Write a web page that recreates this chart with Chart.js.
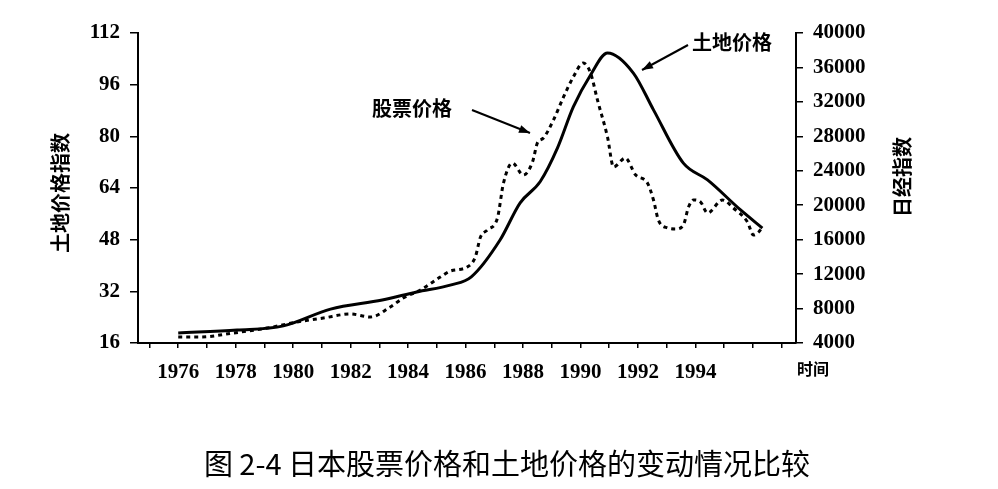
<!DOCTYPE html>
<html>
<head>
<meta charset="utf-8">
<script src="https://cdn.jsdelivr.net/npm/chart.js@4.4.1/dist/chart.umd.min.js"></script>
<style>
html,body{margin:0;padding:0;background:#fff;}
canvas{display:block;}
</style>
</head>
<body>
<canvas id="c" width="998" height="489"></canvas>
<script>
// ---- data ----
const yearTicks = [1975,1976,1977,1978,1979,1980,1981,1982,1983,1984,1985,1986,1987,1988,1989,1990,1991,1992,1993,1994,1995,1996,1997];
const yearLabels = [1976,1978,1980,1982,1984,1986,1988,1990,1992,1994];
const landTicks = [16,32,48,64,80,96,112];
const nikkeiTicks = [4000,8000,12000,16000,20000,24000,28000,32000,36000,40000];

const landYears  = [1976.0,1978.05,1979.66,1981.3,1983.1,1984.3,1985.5,1986.2,1987.2,1987.9,1988.6,1989.2,1989.75,1990.35,1990.94,1991.84,1992.54,1993.58,1994.42,1995.57,1996.33];
const landValues = [19.1,20.0,21.3,26.5,29.3,31.8,34.0,36.5,47.9,59.4,66.0,76.4,89.1,99.0,105.8,99.6,88.2,71.7,66.5,57.2,51.6];

const stockYears  = [1976.0,1976.77,1977.92,1979.10,1980.14,1981.05,1981.99,1982.69,1983.38,1983.83,1984.43,1985.12,1985.47,1986.06,1986.34,1986.52,1986.76,1987.11,1987.32,1987.63,1988.01,1988.33,1988.50,1988.71,1989.06,1989.41,1989.75,1990.10,1990.35,1990.59,1990.94,1991.15,1991.56,1991.92,1992.33,1992.54,1992.71,1993.03,1993.31,1993.58,1993.76,1993.93,1994.18,1994.42,1994.94,1995.32,1995.81,1996.02,1996.20,1996.33];
const stockValues = [4700,4700,5160,5740,6440,6900,7370,7020,8180,9230,10150,11660,12360,12830,13990,16310,17120,18520,22580,24900,23510,25020,27230,27800,29900,32570,34890,36520,35360,32220,27920,24440,25480,23510,22580,20610,18280,17360,17240,17700,19790,20610,20370,19100,20610,19680,18050,16540,16890,17470];

const landPoints = landYears.map((x,i)=>({x, y: landValues[i]}));
const stockPoints = stockYears.map((x,i)=>({x, y: stockValues[i]}));

const numFont = {family:'"Liberation Serif", "DejaVu Serif", serif', size:21, weight:'bold'};
const cjkBold = '"Noto Sans CJK SC", sans-serif';

const annot = {
  id:'annot',
  afterDraw(chart){
    const ctx = chart.ctx;
    ctx.save();
    ctx.fillStyle = '#000';
    ctx.strokeStyle = '#000';
    // series labels
    ctx.font = 'bold 20px ' + cjkBold;
    ctx.textBaseline = 'middle';
    ctx.textAlign = 'left';
    ctx.fillText('股票价格', 372, 108);
    ctx.fillText('土地价格', 692, 42);
    // arrows
    function arrow(x1,y1,x2,y2){
      ctx.lineWidth = 2;
      ctx.beginPath(); ctx.moveTo(x1,y1); ctx.lineTo(x2,y2); ctx.stroke();
      const a = Math.atan2(y2-y1, x2-x1);
      const L = 11, W = 4;
      ctx.beginPath();
      ctx.moveTo(x2,y2);
      ctx.lineTo(x2 - L*Math.cos(a) + W*Math.sin(a), y2 - L*Math.sin(a) - W*Math.cos(a));
      ctx.lineTo(x2 - L*Math.cos(a) - W*Math.sin(a), y2 - L*Math.sin(a) + W*Math.cos(a));
      ctx.closePath(); ctx.fill();
    }
    arrow(472,110,530,133);
    arrow(688,45,642,70);
    // axis titles (rotated, reading bottom to top)
    ctx.font = 'bold 20px ' + cjkBold;
    ctx.textAlign = 'center';
    ctx.save(); ctx.translate(60,193); ctx.rotate(-Math.PI/2); ctx.fillText('土地价格指数',0,0); ctx.restore();
    ctx.save(); ctx.translate(902,177); ctx.rotate(-Math.PI/2); ctx.fillText('日经指数',0,0); ctx.restore();
    // x axis name
    ctx.font = 'bold 16px ' + cjkBold;
    ctx.textAlign = 'left';
    ctx.fillText('时间', 797, 369);
    // caption
    ctx.font = '29px ' + cjkBold;
    ctx.textAlign = 'center';
    ctx.fillText('图 2-4 日本股票价格和土地价格的变动情况比较', 507, 464);
    ctx.restore();
  }
};

new Chart(document.getElementById('c'), {
  type:'line',
  data:{
    datasets:[
      {label:'土地价格', data:landPoints, yAxisID:'y', borderColor:'#000', borderWidth:3, pointRadius:0, cubicInterpolationMode:'monotone', fill:false},
      {label:'股票价格', data:stockPoints, yAxisID:'y2', borderColor:'#000', borderWidth:3, borderDash:[4,4], pointRadius:0, cubicInterpolationMode:'monotone', fill:false}
    ]
  },
  options:{
    responsive:false,
    devicePixelRatio:1,
    animation:false,
    layout:{padding:{top:33,bottom:106,left:0,right:0}},
    plugins:{legend:{display:false}, tooltip:{enabled:false}, title:{display:false}},
    scales:{
      x:{
        type:'linear', position:'bottom', min:1974.6, max:1997.5,
        afterBuildTicks(s){ s.ticks = yearTicks.map(v=>({value:v})); },
        afterFit(s){ s.height = 40; },
        ticks:{autoSkip:false, maxRotation:0, color:'#000', font:numFont, padding:12,
          callback:(v)=> yearLabels.includes(v) ? String(v) : ''},
        grid:{drawOnChartArea:false, drawTicks:true, tickLength:5, color:'#000', lineWidth:1.5},
        border:{display:true, color:'#000', width:2}
      },
      y:{
        type:'linear', position:'left', min:16, max:112,
        afterBuildTicks(s){ s.ticks = landTicks.map(v=>({value:v})); },
        afterFit(s){ s.width = 138; },
        ticks:{color:'#000', font:numFont, padding:10, callback:(v)=>String(v)},
        grid:{drawOnChartArea:false, drawTicks:true, tickLength:8, color:'#000', lineWidth:1.5},
        border:{display:true, color:'#000', width:2}
      },
      y2:{
        type:'linear', position:'right', min:4000, max:40000,
        afterBuildTicks(s){ s.ticks = nikkeiTicks.map(v=>({value:v})); },
        afterFit(s){ s.width = 202; },
        ticks:{color:'#000', font:numFont, padding:10, callback:(v)=>String(v)},
        grid:{drawOnChartArea:false, drawTicks:true, tickLength:7, color:'#000', lineWidth:1.5},
        border:{display:true, color:'#000', width:2}
      }
    }
  },
  plugins:[annot]
});
</script>
</body>
</html>
